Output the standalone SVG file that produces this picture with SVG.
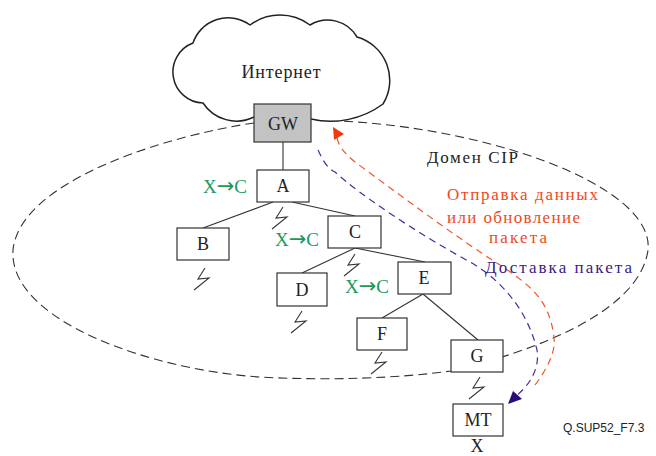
<svg xmlns="http://www.w3.org/2000/svg" width="656" height="456" viewBox="0 0 656 456">
<style>
.bg{fill:#ffffff}
.box{fill:#ffffff;stroke:#333333;stroke-width:1.2}
.gw{fill:#c3c3c3;stroke:#333333;stroke-width:1.2}
.lbl{font-family:"Liberation Serif","Times New Roman",serif;font-size:18px;fill:#222222;text-anchor:middle}
.grn{font-family:"Liberation Serif","Times New Roman",serif;font-size:19px;fill:#1a9a5a}
.arr{font-family:"DejaVu Sans",sans-serif;font-size:21px}
.txt{font-family:"Liberation Serif","Times New Roman",serif;font-size:17px}
.edge{stroke:#333333;stroke-width:1.1;fill:none}
.bolt{stroke:#333333;stroke-width:1.1;fill:none}
.dom{stroke:#333333;stroke-width:1.1;fill:none;stroke-dasharray:9,5}
.red{stroke:#f0562a;stroke-width:1.2;fill:none;stroke-dasharray:7,5}
.pur{stroke:#4a2a9c;stroke-width:1.2;fill:none;stroke-dasharray:7,5}
</style>
<defs>
<path id="bz" d="M0,0 L-7,11 L4,10 L-11,22"/>
</defs>
<rect class="bg" x="0" y="0" width="656" height="456"/>

<g id="domain">
<path class="dom" d="M254,123 C170,135 20,180 13,250 C8,320 150,370 260,377 C330,381 400,378 451,371 C540,350 640,310 648,250 C655,185 480,122 311,120"/>
<text class="txt" x="427" y="163" fill="#222222" textLength="91" lengthAdjust="spacing">Домен CIP</text>
</g>

<g id="cloud">
<path d="M254,117 A40,40 0 0 1 203,103 A31,31 0 0 1 193,43 A37,37 0 0 1 250,25 A50,50 0 0 1 310,25 A34,34 0 0 1 357,37 A45,45 0 0 1 383,104 A88,88 0 0 1 311,119" fill="#ffffff" stroke="#222222" stroke-width="1.5"/>
<text class="lbl" x="281" y="78" textLength="79" lengthAdjust="spacing">Интернет</text>
</g>

<g id="connectors">
<line class="edge" x1="283" y1="142" x2="283" y2="170"/>
<line class="edge" x1="273" y1="202" x2="203" y2="228"/>
<line class="edge" x1="292" y1="202" x2="355" y2="216"/>
<line class="edge" x1="355" y1="248" x2="302" y2="273"/>
<line class="edge" x1="355" y1="248" x2="425" y2="262"/>
<line class="edge" x1="423" y1="294" x2="382" y2="318"/>
<line class="edge" x1="423" y1="294" x2="478" y2="340"/>
<use href="#bz" class="bolt" x="283" y="207"/>
<use href="#bz" class="bolt" x="205" y="268"/>
<use href="#bz" class="bolt" x="355" y="254"/>
<use href="#bz" class="bolt" x="302" y="311"/>
<use href="#bz" class="bolt" x="382" y="352"/>
<use href="#bz" class="bolt" x="480" y="377"/>
<path class="red" d="M535,385 C548,368 556,350 554,338 C550,300 530,285 500,265 C460,240 400,195 355,162 C343,152 338,145 337,137"/>
<polygon points="333,127 344,134 334,140" fill="#ee3a0e"/>
<path class="pur" d="M318,150 C322,158 326,168 335,172 C360,195 420,235 470,262 C510,285 530,320 537,350 C540,368 530,385 516,396"/>
<polygon points="508,404 513,391 522,399" fill="#2a0c78"/>
</g>

<g id="GW"><rect class="gw" x="254" y="104" width="57" height="38"/><text class="lbl" x="283" y="130">GW</text></g>
<g id="A"><rect class="box" x="257" y="170" width="52" height="32"/><text class="lbl" x="283" y="192">A</text></g>
<g id="B"><rect class="box" x="177" y="228" width="52" height="32"/><text class="lbl" x="203" y="250">B</text></g>
<g id="C"><rect class="box" x="328" y="216" width="53" height="32"/><text class="lbl" x="355" y="238">C</text></g>
<g id="D"><rect class="box" x="277" y="273" width="50" height="33"/><text class="lbl" x="302" y="296">D</text></g>
<g id="E"><rect class="box" x="398" y="262" width="53" height="32"/><text class="lbl" x="424" y="284">E</text></g>
<g id="F"><rect class="box" x="357" y="318" width="50" height="32"/><text class="lbl" x="382" y="340">F</text></g>
<g id="G"><rect class="box" x="451" y="340" width="52" height="32"/><text class="lbl" x="477" y="362">G</text></g>
<g id="MT"><rect class="box" x="453" y="404" width="50" height="32"/><text class="lbl" x="478" y="426">MT</text><text class="lbl" x="477" y="452" font-size="17">X</text></g>

<g id="labels">
<text class="grn" x="203" y="193">X<tspan class="arr">→</tspan><tspan>C</tspan></text>
<text class="grn" x="275" y="246">X<tspan class="arr">→</tspan><tspan>C</tspan></text>
<text class="grn" x="345" y="293">X<tspan class="arr">→</tspan><tspan>C</tspan></text>
<text class="txt" x="447" y="200" fill="#ee4a1c" textLength="151" lengthAdjust="spacing">Отправка данных</text>
<text class="txt" x="447" y="223" fill="#ee4a1c" textLength="133" lengthAdjust="spacing">или обновление</text>
<text class="txt" x="489" y="243" fill="#ee4a1c" textLength="58" lengthAdjust="spacing">пакета</text>
<text class="txt" x="485" y="273" fill="#3c1c80" textLength="147" lengthAdjust="spacing">Доставка пакета</text>
<text x="563" y="432" font-family="'Liberation Sans',Arial,sans-serif" font-size="12" fill="#222222">Q.SUP52_F7.3</text>
</g>
</svg>
